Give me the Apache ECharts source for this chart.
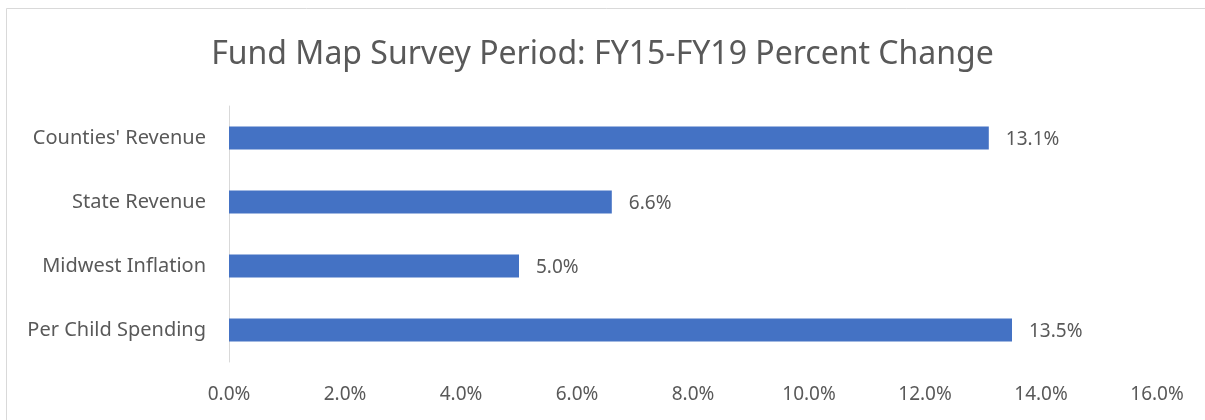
<!DOCTYPE html>
<html>
<head>
<meta charset="utf-8">
<script src="https://cdn.jsdelivr.net/npm/echarts@6/dist/echarts.min.js"></script>
<style>
  html, body { margin: 0; padding: 0; background: #fff; }
  #chart { width: 1205px; height: 420px; }
</style>
</head>
<body>
<div id="chart"></div>
<script>
var categories = ['Per Child Spending', 'Midwest Inflation', 'State Revenue', "Counties' Revenue"];
var values = [13.5, 5.0, 6.6, 13.1];
var xTicks = { min: 0, max: 16, interval: 2 };

var textColor = '#595959';
var font = 'Noto Sans';

var myChart = echarts.init(document.getElementById('chart'));

var option = {
  backgroundColor: '#fff',
  animation: false,
  title: {
    text: 'Fund Map Survey Period: FY15-FY19 Percent Change',
    left: 'center',
    top: 34,
    textStyle: { color: textColor, fontSize: 32, fontWeight: 'normal', fontFamily: font }
  },
  graphic: [{
    type: 'rect',
    shape: { x: 6.5, y: 8.5, width: 1210, height: 430 },
    style: { fill: 'none', stroke: '#d9d9d9', lineWidth: 1 },
    silent: true
  }],
  grid: { left: 229, right: 48, top: 106, bottom: 58 },
  xAxis: {
    type: 'value',
    min: xTicks.min,
    max: xTicks.max,
    interval: xTicks.interval,
    splitLine: { show: false },
    axisLine: { show: false },
    axisTick: { show: false },
    axisLabel: {
      color: textColor, fontSize: 19, fontFamily: font, margin: 23,
      formatter: function (v) { return v.toFixed(1) + '%'; }
    }
  },
  yAxis: {
    type: 'category',
    data: categories,
    axisLine: { show: true, lineStyle: { color: '#d9d9d9', width: 1 } },
    axisTick: { show: false },
    axisLabel: { color: textColor, fontSize: 20, fontFamily: font, margin: 23 }
  },
  series: [{
    type: 'bar',
    data: values,
    barWidth: 23,
    itemStyle: { color: '#4472c4' },
    label: {
      show: true,
      position: 'right',
      distance: 17,
      offset: [0, 2],
      color: textColor,
      fontSize: 19,
      fontFamily: font,
      formatter: function (p) { return p.value.toFixed(1) + '%'; }
    }
  }]
};

myChart.setOption(option);
</script>
</body>
</html>
